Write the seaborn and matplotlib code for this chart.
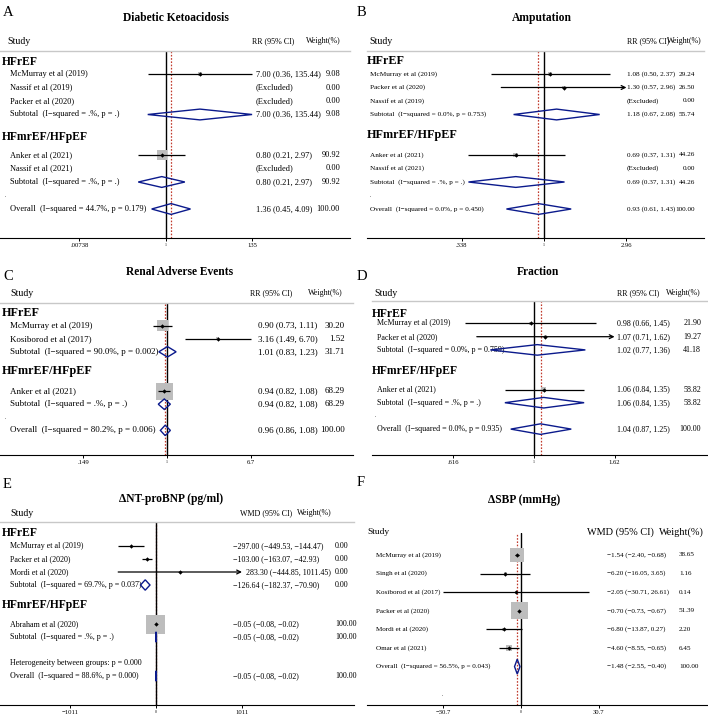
import numpy as np
import matplotlib.pyplot as plt
import matplotlib.transforms as mtransforms
from matplotlib.patches import Polygon
from matplotlib.ticker import NullLocator
import seaborn as sns

sns.set_theme(style="white", rc={"text.color": "black", "xtick.color": "black",
                                 "axes.edgecolor": "black"})
plt.rcParams['font.family'] = ['Liberation Serif', 'DejaVu Serif']

W, H = 708, 716
nan = np.nan
MINUS = "\u2212"

# ---------------- data ----------------
# kinds: h header, s study, x excluded, d subtotal, o overall, b blank, t text only

# A  Diabetic Ketoacidosis (RR)
a_labels = ["HFrEF", "McMurray et al (2019)", "Nassif et al (2019)", "Packer et al (2020)",
            "Subtotal  (I−squared = .%, p = .)", "", "HFmrEF/HFpEF", "Anker et al (2021)",
            "Nassif et al (2021)", "Subtotal  (I−squared = .%, p = .)", ".",
            "Overall  (I−squared = 44.7%, p = 0.179)"]
a_kind = ["h", "s", "x", "x", "d", "b", "h", "s", "x", "d", "t", "o"]
a_est = [nan, 7.00, nan, nan, 7.00, nan, nan, 0.80, nan, 0.80, nan, 1.36]
a_lo = [nan, 0.36, nan, nan, 0.36, nan, nan, 0.21, nan, 0.21, nan, 0.45]
a_hi = [nan, 135.44, nan, nan, 135.44, nan, nan, 2.97, nan, 2.97, nan, 4.09]
a_wt = [nan, 9.08, 0.00, 0.00, 9.08, nan, nan, 90.92, 0.00, 90.92, nan, 100.00]
a_ticks = [0.00738, 1, 135]
a_ticklabels = [".00738", "1", "135"]

# B  Amputation (RR)
b_labels = ["HFrEF", "McMurray et al (2019)", "Packer et al (2020)", "Nassif et al (2019)",
            "Subtotal  (I−squared = 0.0%, p = 0.753)", "", "HFmrEF/HFpEF", "Anker et al (2021)",
            "Nassif et al (2021)", "Subtotal  (I−squared = .%, p = .)", ".",
            "Overall  (I−squared = 0.0%, p = 0.450)"]
b_kind = ["h", "s", "s", "x", "d", "b", "h", "s", "x", "d", "t", "o"]
b_est = [nan, 1.08, 1.30, nan, 1.18, nan, nan, 0.69, nan, 0.69, nan, 0.93]
b_lo = [nan, 0.50, 0.57, nan, 0.67, nan, nan, 0.37, nan, 0.37, nan, 0.61]
b_hi = [nan, 2.37, 2.96, nan, 2.08, nan, nan, 1.31, nan, 1.31, nan, 1.43]
b_wt = [nan, 29.24, 26.50, 0.00, 55.74, nan, nan, 44.26, 0.00, 44.26, nan, 100.00]
b_ticks = [0.338, 1, 2.96]
b_ticklabels = [".338", "1", "2.96"]

# C  Renal Adverse Events (RR)
c_labels = ["HFrEF", "McMurray et al (2019)", "Kosiborod et al (2017)",
            "Subtotal  (I−squared = 90.0%, p = 0.002)", "", "HFmrEF/HFpEF",
            "Anker et al (2021)", "Subtotal  (I−squared = .%, p = .)", ".",
            "Overall  (I−squared = 80.2%, p = 0.006)"]
c_kind = ["h", "s", "s", "d", "b", "h", "s", "d", "t", "o"]
c_est = [nan, 0.90, 3.16, 1.01, nan, nan, 0.94, 0.94, nan, 0.96]
c_lo = [nan, 0.73, 1.49, 0.83, nan, nan, 0.82, 0.82, nan, 0.86]
c_hi = [nan, 1.11, 6.70, 1.23, nan, nan, 1.08, 1.08, nan, 1.08]
c_wt = [nan, 30.20, 1.52, 31.71, nan, nan, 68.29, 68.29, nan, 100.00]
c_ticks = [0.149, 1, 6.7]
c_ticklabels = [".149", "1", "6.7"]

# D  Fraction (RR)
d_labels = ["HFrEF", "McMurray et al (2019)", "Packer et al (2020)",
            "Subtotal  (I−squared = 0.0%, p = 0.759)", "", "HFmrEF/HFpEF",
            "Anker et al (2021)", "Subtotal  (I−squared = .%, p = .)", ".",
            "Overall  (I−squared = 0.0%, p = 0.935)"]
d_kind = ["h", "s", "s", "d", "b", "h", "s", "d", "t", "o"]
d_est = [nan, 0.98, 1.07, 1.02, nan, nan, 1.06, 1.06, nan, 1.04]
d_lo = [nan, 0.66, 0.71, 0.77, nan, nan, 0.84, 0.84, nan, 0.87]
d_hi = [nan, 1.45, 1.62, 1.36, nan, nan, 1.35, 1.35, nan, 1.25]
d_wt = [nan, 21.90, 19.27, 41.18, nan, nan, 58.82, 58.82, nan, 100.00]
d_ticks = [0.616, 1, 1.62]
d_ticklabels = [".616", "1", "1.62"]

# E  ΔNT-proBNP (WMD)
e_labels = ["HFrEF", "McMurray et al (2019)", "Packer et al (2020)", "Mordi et al (2020)",
            "Subtotal  (I−squared = 69.7%, p = 0.037)", "", "HFmrEF/HFpEF",
            "Abraham et al (2020)", "Subtotal  (I−squared = .%, p = .)", "",
            "Heterogeneity between groups: p = 0.000",
            "Overall  (I−squared = 88.6%, p = 0.000)"]
e_kind = ["h", "s", "s", "s", "d", "b", "h", "s", "d", "b", "t", "o"]
e_est = [nan, -297.00, -103.00, 283.30, -126.64, nan, nan, -0.05, -0.05, nan, nan, -0.05]
e_lo = [nan, -449.53, -163.07, -444.85, -182.37, nan, nan, -0.08, -0.08, nan, nan, -0.08]
e_hi = [nan, -144.47, -42.93, 1011.45, -70.90, nan, nan, -0.02, -0.02, nan, nan, -0.02]
e_wt = [nan, 0.00, 0.00, 0.00, 0.00, nan, nan, 100.00, 100.00, nan, nan, 100.00]
e_ticks = [-1011, 0, 1011]
e_ticklabels = ["−1011", "0", "1011"]

# F  ΔSBP (WMD)
f_labels = ["McMurray et al (2019)", "Singh et al (2020)", "Kosiborod et al (2017)",
            "Packer et al (2020)", "Mordi et al (2020)", "Omar et al (2021)",
            "Overall  (I−squared = 56.5%, p = 0.043)", ""]
f_kind = ["s", "s", "s", "s", "s", "s", "o", "b"]
f_est = [-1.54, -6.20, -2.05, -0.70, -6.80, -4.60, -1.48, nan]
f_lo = [-2.40, -16.05, -30.71, -0.73, -13.87, -8.55, -2.55, nan]
f_hi = [-0.68, 3.65, 26.61, -0.67, 0.27, -0.65, -0.40, nan]
f_wt = [38.65, 1.16, 0.14, 51.39, 2.20, 6.45, 100.00, nan]
f_ticks = [-30.7, 0, 30.7]
f_ticklabels = ["−30.7", "0", "30.7"]

# ---------------- layout (pixels of the 708x716 canvas) ----------------
panels = [
    dict(letter="A", letter_xy=(3, 12), title="Diabetic Ketoacidosis", title_xy=(176, 18),
         measure="RR (95% CI)", study_xy=(7, 41), hdr_ci=252, hdr_wt=306, hdr_size=5.8, study_size=7.1,
         box=(0, 51, 350, 237.5), log=True, null_px=165.7, scale=17.6, row0=60.5, step=13.5,
         label_x=10, head_x=2, ci_x=256, wt_x=340, wt_ha="right", head_dy=[0.1, -0.35],
         k=1.05, arrows=[], topline=True, dot_xy=None, row_size=6.0, head_size=8.4, ci_shift={},
         labels=a_labels, kind=a_kind, est=a_est, lo=a_lo, hi=a_hi, wt=a_wt,
         ticks=a_ticks, ticklabels=a_ticklabels),
    dict(letter="B", letter_xy=(357, 12), title="Amputation", title_xy=(542, 18),
         measure="RR (95% CI)", study_xy=(369, 41), hdr_ci=627, hdr_wt=667, hdr_size=5.8, study_size=7.1,
         box=(367, 51, 704, 237.5), log=True, null_px=544, scale=76, row0=60.5, step=13.5,
         label_x=370, head_x=367, ci_x=627, wt_x=695, wt_ha="right", head_dy=[0.05, -0.45],
         k=0.75, arrows=[2], topline=True, dot_xy=None, row_size=5.2, head_size=8.7, ci_shift={},
         labels=b_labels, kind=b_kind, est=b_est, lo=b_lo, hi=b_hi, wt=b_wt,
         ticks=b_ticks, ticklabels=b_ticklabels),
    dict(letter="C", letter_xy=(3, 277), title="Renal Adverse Events", title_xy=(180, 272),
         measure="RR (95% CI)", study_xy=(10, 293), hdr_ci=250, hdr_wt=308, hdr_size=5.8, study_size=7.1,
         box=(0, 303, 353, 455), log=True, null_px=167, scale=44, row0=312.5, step=13.1,
         label_x=10, head_x=2, ci_x=258, wt_x=345, wt_ha="right", head_dy=[0.0, -0.5],
         k=2.06, arrows=[], topline=True, dot_xy=None, row_size=6.5, head_size=8.7, ci_shift={},
         labels=c_labels, kind=c_kind, est=c_est, lo=c_lo, hi=c_hi, wt=c_wt,
         ticks=c_ticks, ticklabels=c_ticklabels),
    dict(letter="D", letter_xy=(357, 277), title="Fraction", title_xy=(538, 272),
         measure="RR (95% CI)", study_xy=(374, 293), hdr_ci=617, hdr_wt=666, hdr_size=5.8, study_size=7.1,
         box=(372, 301, 707, 455), log=True, null_px=534, scale=167, row0=310.3, step=13.2,
         label_x=377, head_x=372, ci_x=617, wt_x=701, wt_ha="right", head_dy=[0.3, -0.4],
         k=0.6, arrows=[2], topline=True, dot_xy=None, row_size=5.8, head_size=8.4, ci_shift={},
         labels=d_labels, kind=d_kind, est=d_est, lo=d_lo, hi=d_hi, wt=d_wt,
         ticks=d_ticks, ticklabels=d_ticklabels),
    dict(letter="E", letter_xy=(3, 484), title="ΔNT-proBNP (pg/ml)", title_xy=(171, 499),
         measure="WMD (95% CI)", study_xy=(10, 513), hdr_ci=240, hdr_wt=297, hdr_size=5.8, study_size=7.1,
         box=(0, 522, 354, 705), log=False, null_px=156, scale=0.085, row0=533, step=13,
         label_x=10, head_x=2, ci_x=233, wt_x=335, wt_ha="left", head_dy=[0.0, -0.45],
         k=1.9, arrows=[3], topline=True, dot_xy=None, row_size=5.8, head_size=8.4, ci_shift={3: 13},
         labels=e_labels, kind=e_kind, est=e_est, lo=e_lo, hi=e_hi, wt=e_wt,
         ticks=e_ticks, ticklabels=e_ticklabels),
    dict(letter="F", letter_xy=(357, 483), title="ΔSBP (mmHg)", title_xy=(524, 500),
         measure="WMD (95% CI)", study_xy=(367, 532), hdr_ci=587, hdr_wt=659, hdr_size=7.4, study_size=6.8,
         box=(367, 533, 707, 705), log=False, null_px=521, scale=2.54, row0=555, step=18.6,
         label_x=376, head_x=367, ci_x=607, wt_x=679, wt_ha="left", head_dy=[],
         k=2.37, arrows=[], topline=False, dot_xy=(442, 695), row_size=5.1, head_size=8.4, ci_shift={},
         labels=f_labels, kind=f_kind, est=f_est, lo=f_lo, hi=f_hi, wt=f_wt,
         ticks=f_ticks, ticklabels=f_ticklabels),
]

NAVY = "#0b1a8c"
GREY_BOX = "#bdbdbd"
RED = "#c0392b"


def fnum(v):
    return f"{v:.2f}".replace("-", MINUS)


def fig_text(fig, x, y, s, **kw):
    fig.text(x / W, 1 - y / H, s, **kw)


def draw_panel(fig, p):
    x0, y0, x1, y1 = p["box"]
    ax = fig.add_axes([x0 / W, 1 - y1 / H, (x1 - x0) / W, (y1 - y0) / H])
    ax.set_facecolor("none")
    if p["log"]:
        ax.set_xscale("log")
        ax.set_xlim(np.exp((x0 - p["null_px"]) / p["scale"]), np.exp((x1 - p["null_px"]) / p["scale"]))
        null = 1
    else:
        ax.set_xlim((x0 - p["null_px"]) / p["scale"], (x1 - p["null_px"]) / p["scale"])
        null = 0
    ax.set_ylim((y1 - p["row0"]) / p["step"], (y0 - p["row0"]) / p["step"])

    # spines / ticks
    for side in ["left", "right"]:
        ax.spines[side].set_visible(False)
    ax.spines["bottom"].set_linewidth(0.8)
    ax.spines["bottom"].set_color("black")
    if p["topline"]:
        ax.spines["top"].set_color("#c8c8c8")
        ax.spines["top"].set_linewidth(1.0)
    else:
        ax.spines["top"].set_visible(False)
    ax.set_yticks([])
    ax.grid(False)
    ax.set_xticks(p["ticks"])
    ax.set_xticklabels(p["ticklabels"])
    ax.xaxis.set_minor_locator(NullLocator())
    ax.tick_params(axis="x", which="major", bottom=True, direction="out", length=2.5,
                   width=0.7, labelsize=4.8, pad=1.2)
    ax.get_xticklabels()[1].set_fontsize(2.8)

    kinds = p["kind"]
    rows = np.arange(len(kinds))
    est = np.array(p["est"], dtype=float)
    lo = np.array(p["lo"], dtype=float)
    hi = np.array(p["hi"], dtype=float)
    wt = np.array(p["wt"], dtype=float)

    overall = est[kinds.index("o")]
    ax.axvline(overall, color=RED, lw=0.9, ls=(0, (1.3, 1.3)), zorder=1)
    ax.axvline(null, color="black", lw=1.0, zorder=1.5)

    # weighted grey boxes
    is_study = np.array([k == "s" for k in kinds])
    sizes = (p["k"] * np.sqrt(wt[is_study]) * 0.72) ** 2
    sns.scatterplot(x=est[is_study], y=rows[is_study], s=sizes, marker="s", color=GREY_BOX,
                    linewidth=0, ax=ax, zorder=2, legend=False)

    # confidence intervals
    for r in rows[is_study]:
        if r in p["arrows"]:
            ax.annotate("", xy=(hi[r], r), xytext=(lo[r], r),
                        arrowprops=dict(arrowstyle="->", lw=0.9, color="black",
                                        shrinkA=0, shrinkB=0, mutation_scale=7),
                        zorder=3)
        else:
            ax.hlines(r, lo[r], hi[r], color="black", lw=0.9, zorder=3)
    sns.scatterplot(x=est[is_study], y=rows[is_study], s=5, marker="D", color="black",
                    linewidth=0, ax=ax, zorder=5, legend=False)

    # pooled diamonds
    for r, k in enumerate(kinds):
        if k in ("d", "o"):
            hh = 0.4
            poly = Polygon([(lo[r], r), (est[r], r - hh), (hi[r], r), (est[r], r + hh)],
                           closed=True, fill=False, edgecolor=NAVY, lw=1.0, zorder=4)
            ax.add_patch(poly)

    # text columns
    tr = mtransforms.blended_transform_factory(fig.transFigure, ax.transData)
    hcount = 0
    for r, (lab, k) in enumerate(zip(p["labels"], kinds)):
        if k == "h":
            ax.text(p["head_x"] / W, r + p["head_dy"][hcount], lab, transform=tr, va="center",
                    ha="left", fontsize=p["head_size"], fontweight="bold", clip_on=False)
            hcount += 1
        elif k == "t":
            if lab == ".":
                ax.text(p["head_x"] / W + 3 / W, r, lab, transform=tr, va="center", ha="left",
                        fontsize=4, clip_on=False)
            else:
                ax.text(p["label_x"] / W, r, lab, transform=tr, va="center", ha="left",
                        fontsize=p["row_size"], clip_on=False)
        elif k in ("s", "x", "d", "o"):
            ax.text(p["label_x"] / W, r, lab, transform=tr, va="center", ha="left",
                    fontsize=p["row_size"], clip_on=False, zorder=0.5)
            if k == "x":
                ci = "(Excluded)"
            else:
                ci = f"{fnum(est[r])} ({fnum(lo[r])}, {fnum(hi[r])})"
            cx = p["ci_x"] + p["ci_shift"].get(r, 0)
            ax.text(cx / W, r, ci, transform=tr, va="center", ha="left",
                    fontsize=p["row_size"], clip_on=False, zorder=0.5)
            ax.text(p["wt_x"] / W, r, f"{wt[r]:.2f}", transform=tr, va="center",
                    ha=p["wt_ha"], fontsize=p["row_size"], clip_on=False, zorder=0.5)
    if p["dot_xy"] is not None:
        fig_text(fig, p["dot_xy"][0], p["dot_xy"][1], ".", fontsize=4, ha="center", va="center")

    # panel furniture
    fig_text(fig, p["letter_xy"][0], p["letter_xy"][1], p["letter"], fontsize=10.5,
             ha="left", va="center")
    fig_text(fig, p["title_xy"][0], p["title_xy"][1], p["title"], fontsize=8.3,
             fontweight="bold", ha="center", va="center")
    fig_text(fig, p["study_xy"][0], p["study_xy"][1], "Study", fontsize=p["study_size"],
             ha="left", va="center")
    fig_text(fig, p["hdr_ci"], p["study_xy"][1], p["measure"], fontsize=p["hdr_size"],
             ha="left", va="center")
    fig_text(fig, p["hdr_wt"], p["study_xy"][1], "Weight(%)", fontsize=p["hdr_size"],
             ha="left", va="center")
    return ax


fig = plt.figure(figsize=(W / 100, H / 100), dpi=100)
fig.patch.set_facecolor("white")
for p in panels:
    draw_panel(fig, p)

fig.savefig("out.png", dpi=100, facecolor="white")
